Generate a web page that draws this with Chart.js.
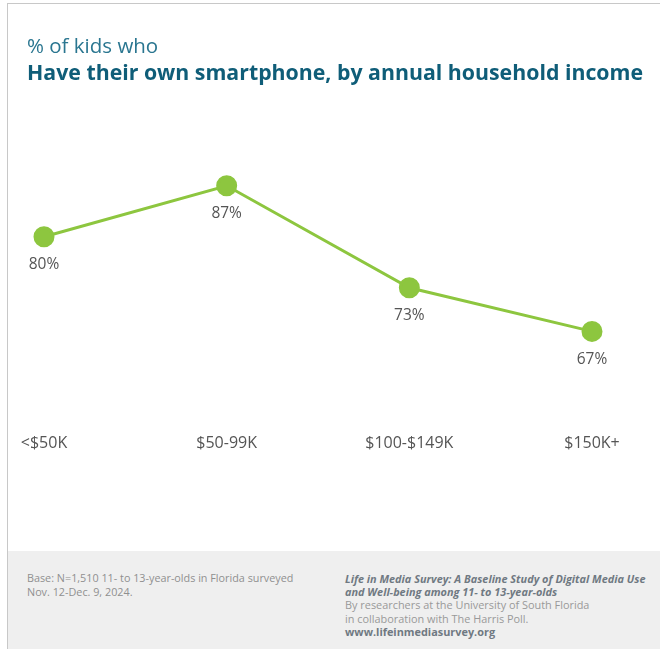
<!DOCTYPE html>
<html>
<head>
<meta charset="utf-8">
<script src="https://cdn.jsdelivr.net/npm/chart.js@4"></script>
<style>
  html, body { margin: 0; padding: 0; background: #fff; }
  body { width: 660px; height: 649px; position: relative; overflow: hidden; font-family: "Open Sans", sans-serif; }
  .frame { position: absolute; left: 7px; top: 3px; right: 0; bottom: 0; border-left: 1px solid #c8c8c8; border-top: 1px solid #c8c8c8; }
  .kicker { position: absolute; left: 27px; top: 31px; font-size: 20.5px; color: #2a7690; white-space: nowrap; }
  .title { position: absolute; left: 27px; top: 57px; font-size: 21.3px; font-weight: 700; color: #0f5d78; white-space: nowrap; }
  #wrap { position: absolute; left: 0; top: 0; width: 660px; height: 549px; }
  .footer { position: absolute; left: 8px; top: 551px; right: 0; bottom: 0; background: #efefef; }
  .base { position: absolute; left: 19px; top: 20px; font-size: 10.8px; line-height: 13.5px; color: #8f8f8f; white-space: nowrap; }
  .src { position: absolute; left: 337px; top: 20.5px; font-size: 10.9px; line-height: 13.4px; color: #999; white-space: nowrap; }
  .src b { color: #6f7982; }
</style>
</head>
<body>
<div class="frame"></div>
<div id="wrap"><canvas id="chart"></canvas></div>
<div class="kicker">% of kids who</div>
<div class="title">Have their own smartphone, by annual household income</div>
<div class="footer">
  <div class="base">Base: N=1,510 11- to 13-year-olds in Florida surveyed<br>Nov. 12-Dec. 9, 2024.</div>
  <div class="src"><b><i>Life in Media Survey: A Baseline Study of Digital Media Use<br>and Well-being among 11- to 13-year-olds</i></b><br>By researchers at the University of South Florida<br>in collaboration with The Harris Poll.<br><b>www.lifeinmediasurvey.org</b></div>
</div>
<script>
// Household income brackets and the share of kids owning a smartphone
const incomeBrackets = ['<$50K', '$50-99K', '$100-$149K', '$150K+'];
const ownSmartphonePct = [80, 87, 73, 67];

const green = '#8dc63f';

// Writes each percentage just beneath its point
const pointLabels = {
  id: 'pointLabels',
  afterDatasetsDraw(chart) {
    const ctx = chart.ctx;
    const meta = chart.getDatasetMeta(0);
    ctx.save();
    ctx.font = '15.5px "Open Sans", sans-serif';
    ctx.fillStyle = '#555';
    ctx.textAlign = 'center';
    ctx.textBaseline = 'middle';
    meta.data.forEach((pt, i) => {
      ctx.fillText(chart.data.datasets[0].data[i] + '%', pt.x, pt.y + 28);
    });
    ctx.restore();
  }
};

new Chart(document.getElementById('chart'), {
  type: 'line',
  data: {
    labels: incomeBrackets,
    datasets: [{
      data: ownSmartphonePct,
      borderColor: green,
      backgroundColor: green,
      pointBackgroundColor: green,
      pointBorderColor: green,
      borderWidth: 3,
      pointRadius: 9,
      pointHoverRadius: 9,
      tension: 0,
      fill: false
    }]
  },
  options: {
    responsive: true,
    maintainAspectRatio: false,
    animation: false,
    layout: { padding: { left: 44, right: 68, top: 127.5, bottom: 81 } },
    plugins: { legend: { display: false }, tooltip: { enabled: false } },
    scales: {
      x: {
        offset: false,
        grid: { display: false, drawTicks: false },
        border: { display: false },
        ticks: { padding: 15, color: '#555', font: { family: '"Open Sans", sans-serif', size: 16 } }
      },
      y: {
        display: false,
        min: 55,
        max: 95
      }
    }
  },
  plugins: [pointLabels]
});
</script>
</body>
</html>
